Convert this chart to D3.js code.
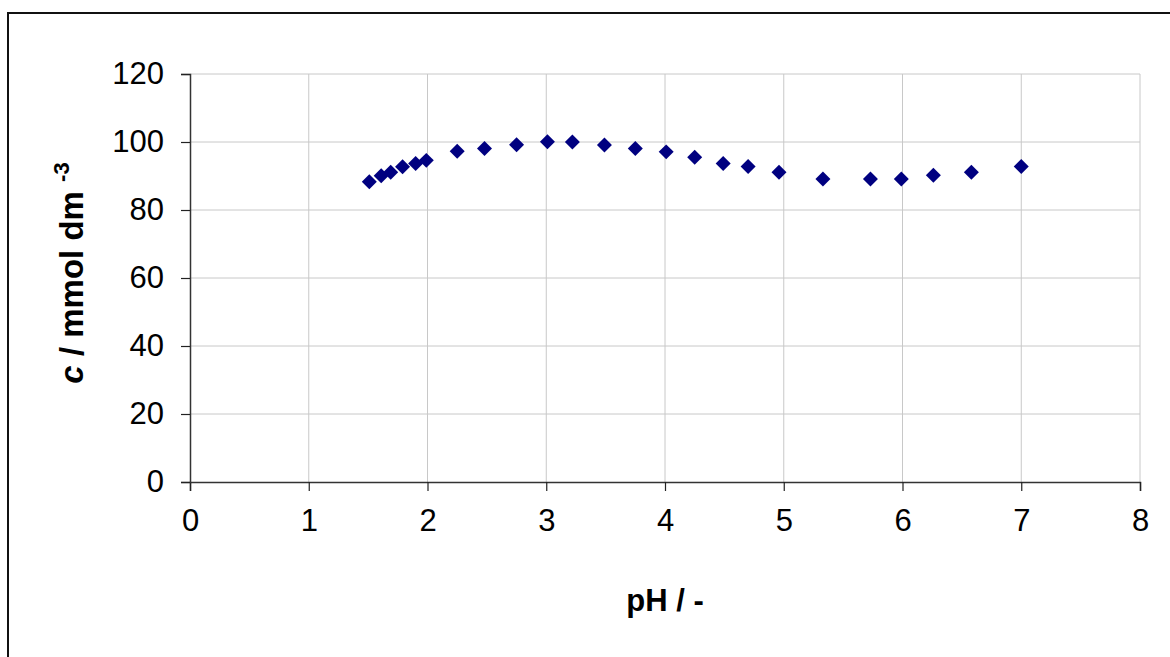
<!DOCTYPE html>
<html>
<head>
<meta charset="utf-8">
<script src="https://cdn.jsdelivr.net/npm/d3@7"></script>
<style>
  body { margin: 0; background: #fff; }
  svg { display: block; font-family: Arial, "Liberation Sans", sans-serif; }
</style>
</head>
<body>
<svg id="chart" width="1170" height="657"></svg>
<script>
// pH values and concentrations
var pH = [1.51, 1.61, 1.69, 1.79, 1.90, 1.99, 2.25, 2.48, 2.75, 3.01, 3.22, 3.49,
          3.75, 4.01, 4.25, 4.49, 4.70, 4.96, 5.33, 5.73, 5.99, 6.26, 6.58, 7.00];
var conc = [88.3, 90.1, 91.1, 92.7, 93.7, 94.6, 97.3, 98.1, 99.2, 100.1, 100.0, 99.1,
            98.1, 97.1, 95.5, 93.7, 92.8, 91.1, 89.1, 89.1, 89.1, 90.2, 91.1, 92.8];
var xTicks = [0, 1, 2, 3, 4, 5, 6, 7, 8];
var yTicks = [0, 20, 40, 60, 80, 100, 120];

var svg = d3.select('#chart');
var plotLeft = 190, plotRight = 1140, plotTop = 74, plotBottom = 482;

// outer chart frame
svg.append('rect')
  .attr('x', 8).attr('y', 13)
  .attr('width', 1200).attr('height', 700)
  .attr('fill', 'none')
  .attr('stroke', '#111')
  .attr('stroke-width', 2);

var x = d3.scaleLinear().domain([0, 8]).range([plotLeft, plotRight]);
var y = d3.scaleLinear().domain([0, 120]).range([plotBottom, plotTop]);

// gridlines
svg.append('g').selectAll('line')
  .data(xTicks.slice(1))
  .enter().append('line')
    .attr('x1', function (d) { return x(d); })
    .attr('x2', function (d) { return x(d); })
    .attr('y1', plotTop).attr('y2', plotBottom)
    .attr('stroke', '#c8c8c8').attr('stroke-width', 1);

svg.append('g').selectAll('line')
  .data(yTicks.slice(1))
  .enter().append('line')
    .attr('x1', plotLeft).attr('x2', plotRight)
    .attr('y1', function (d) { return y(d); })
    .attr('y2', function (d) { return y(d); })
    .attr('stroke', '#c8c8c8').attr('stroke-width', 1);

// axes
var xAxis = svg.append('g')
  .attr('transform', 'translate(0,' + plotBottom + ')')
  .call(d3.axisBottom(x).tickValues(xTicks).tickSize(9).tickPadding(12)
    .tickFormat(d3.format('d')));
var yAxis = svg.append('g')
  .attr('transform', 'translate(' + plotLeft + ',0)')
  .call(d3.axisLeft(y).tickValues(yTicks).tickSize(9).tickPadding(17)
    .tickFormat(d3.format('d')));

[xAxis, yAxis].forEach(function (a) {
  a.select('.domain').attr('stroke', '#333').attr('stroke-width', 1.5);
  a.selectAll('.tick line').attr('stroke', '#222').attr('stroke-width', 1.2);
  a.selectAll('.tick text')
    .attr('fill', '#000')
    .style('font-size', '31px')
    .style('font-family', 'Arial, "Liberation Sans", sans-serif');
});
xAxis.selectAll('.tick text').attr('dy', '0.9em');

// axis titles
svg.append('text')
  .attr('x', 665).attr('y', 611)
  .attr('text-anchor', 'middle')
  .style('font-size', '31px').style('font-weight', 'bold')
  .text('pH / -');

var yt = svg.append('text')
  .attr('transform', 'translate(83,273) rotate(-90)')
  .attr('text-anchor', 'middle')
  .style('font-size', '33px').style('font-weight', 'bold');
yt.append('tspan').style('font-style', 'italic').text('c');
yt.append('tspan').text(' / mmol dm ');
yt.append('tspan').attr('dy', -14).style('font-size', '22px').text('-3');

// data points: diamonds
svg.append('g').selectAll('path')
  .data(pH)
  .enter().append('path')
    .attr('d', d3.symbol().type(d3.symbolSquare).size(112))
    .attr('transform', function (d, i) {
      return 'translate(' + x(d) + ',' + y(conc[i]) + ') rotate(45)';
    })
    .attr('fill', '#000080');
</script>
</body>
</html>
